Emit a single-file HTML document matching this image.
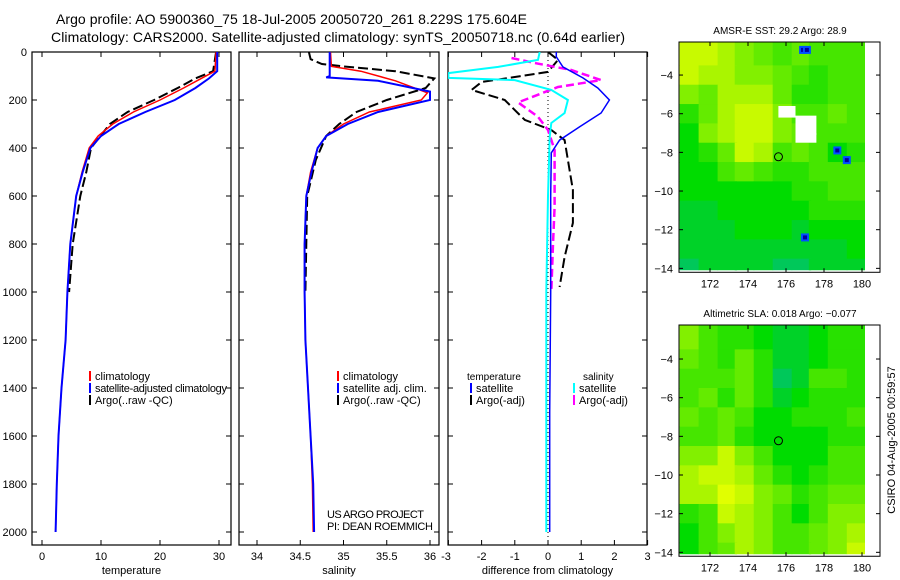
<!DOCTYPE html>
<html><head><meta charset="utf-8"><style>
body{margin:0;background:#fff}
svg{display:block;font-family:"Liberation Sans",sans-serif}
</style></head><body>
<svg id="s" width="900" height="580" viewBox="0 0 900 580">
<text x="56" y="24" font-size="14" textLength="471">Argo profile: AO 5900360_75 18-Jul-2005 20050720_261 8.229S 175.604E</text>
<text x="51" y="42" font-size="14" textLength="574">Climatology: CARS2000. Satellite-adjusted climatology: synTS_20050718.nc (0.64d earlier)</text>
<text transform="translate(895,440) rotate(-90)" font-size="11" text-anchor="middle">CSIRO 04-Aug-2005 00:59:57</text>
</svg>
<script>
// ---------- data ----------
const tDepth=[0,80,110,150,200,250,300,350,400,500,600,800,1000,1200,1400,1600,1800,2000];
const tempClim=[29.5,29.3,27,24,20,15.5,12,9.5,8,6.8,5.8,4.8,4.3,4.0,3.3,2.8,2.5,2.3];
const tempSat=[29.7,29.7,28.3,26,22.5,17.5,13,10,8.2,6.9,5.8,4.8,4.3,4.0,3.3,2.8,2.5,2.3];
const aDepth=[0,80,110,150,200,250,300,400,500,600,800,1000];
const tempArgo=[29.5,29.0,26,23,19,14.5,11.5,8.3,7.5,6.5,5.2,4.6];
const sDepth=[0,60,80,120,170,200,250,300,350,400,500,600,800,1000,1200,1400,1600,1800,2000];
const salClim=[34.85,34.86,35.2,35.6,35.97,35.9,35.3,35.0,34.8,34.7,34.62,34.57,34.55,34.55,34.56,34.59,34.62,34.64,34.65];
const ssDepth=[0,100,106,120,165,200,250,300,350,400,500,600,800,1000,1200,1400,1600,1800,2000];
const salSat=[34.84,34.84,34.8,35.4,36.0,36.0,35.4,35.05,34.8,34.7,34.63,34.57,34.55,34.55,34.56,34.59,34.62,34.65,34.66];
const saDepth=[0,30,50,60,80,110,150,200,250,300,350,450,600,800,1000];
const salArgo=[34.6,34.62,34.75,35.0,35.6,36.05,35.95,35.5,35.15,34.95,34.8,34.68,34.58,34.57,34.56];
const dDepthT=[0,20,62,108,150,200,254,312,367,420,600,1000,1500,2000];
const diffTSat=[0.25,0.25,0.45,1.05,1.5,1.85,1.6,0.95,0.35,0.1,0.08,0.08,0.05,0.05];
const dDepthS=[0,33,62,88,108,117,158,200,254,296,354,600,1000,1500,2000];
const diffSSat=[-0.25,-0.3,-1.5,-3,-3,-1,0.1,0.6,0.5,0.1,0.05,0,-0.05,-0.05,-0.05];
const dDepthTA=[0,33,83,104,125,158,200,242,283,325,367,450,575,712,854,979];
const diffTArgo=[0,0.3,0,-1,-2,-2.3,-1.3,-1.0,-0.7,0.1,0.5,0.6,0.75,0.75,0.5,0.35];
const dDepthSA=[25,46,75,117,146,210,270,325,408,645,800,1000];
const diffSArgo=[-1.1,-0.4,0.7,1.6,0.3,-0.9,-0.3,0,0.2,0.2,0.15,0.1];
const depthTicks=[0,200,400,600,800,1000,1200,1400,1600,1800,2000];
const tempTicks=[0,10,20,30];
const salTicks=[34,34.5,35,35.5,36];
const diffTicks=[-3,-2,-1,0,1,2,3];
const lonTicks=[172,174,176,178,180];
const latTicks=[-4,-6,-8,-10,-12,-14];
const gridLat=[-3,-4,-5,-6,-7,-8,-9,-10,-11,-12,-13,-14];
const gridLon=[170.9,171.9,172.9,173.8,174.8,175.8,176.8,177.7,178.7,179.7];
const sstGrid=[
[9,9,8,7,6,5,6,5,5,5],[9,8,8,7,7,6,5,4,5,5],[7,6,8,8,8,6,4,4,5,5],[4,6,8,9,9,7,5,5,6,5],
[3,7,8,9,9,7,6,5,5,5],[3,4,6,9,8,5,6,5,3,4],[3,3,5,6,5,4,4,5,5,5],[3,3,3,3,3,3,4,4,5,5],
[2,2,3,3,3,3,3,4,4,4],[2,2,2,3,3,3,2,3,3,3],[2,2,2,2,2,2,2,2,2,3],[1,2,2,2,2,1,1,2,2,2]];
const slaGrid=[
[7,5,4,4,3,2,2,3,4,4],[6,5,4,6,4,2,2,3,4,4],[5,5,5,6,4,1,2,5,5,4],[5,6,4,6,4,2,3,4,4,4],
[6,5,6,5,3,3,4,4,4,5],[5,5,6,4,3,3,3,3,4,4],[7,7,9,7,5,3,3,3,5,5],[8,9,9,8,6,4,3,4,5,5],
[8,8,10,9,7,6,4,5,6,6],[4,5,9,8,7,5,3,5,7,7],[3,5,7,8,7,5,5,6,7,8],[3,5,6,8,7,5,5,6,7,9]];
const cloudLon=[175.6,176.5,176.5];
const cloudLat=[-5.6,-6.1,-7.0];
const cloudW=[0.9,1.1,1.1];
const cloudH=[0.6,1.0,0.5];
const spotLon=[176.9,177.1,178.7,179.2,177.0];
const spotLat=[-2.7,-2.7,-7.9,-8.4,-12.4];
const argoLon=175.604, argoLat=-8.229;

// ---------- drawing ----------
const S=document.getElementById('s');const NS='http://www.w3.org/2000/svg';
function mk(tag,at,parent){const e=document.createElementNS(NS,tag);for(const k in at)e.setAttribute(k,at[k]);(parent||S).appendChild(e);return e;}
function txt(x,y,s,size,anchor,name){const e=mk('text',{x:x,y:y,'font-size':size,'text-anchor':anchor||'start'});e.textContent=s;


return e;}
const Y=d=>52+d*0.24;
function panel(x0,x1,xs,ticks,fmt,title,name,ylabels){
  const r=mk('rect',{x:x0,y:52,width:x1-x0,height:493,fill:'none',stroke:'#000','stroke-width':1.2});
  
  
  ticks.forEach(t=>{const x=xs(t);mk('line',{x1:x,x2:x,y1:545,y2:540,stroke:'#000'});mk('line',{x1:x,x2:x,y1:52,y2:57,stroke:'#000'});
    txt(x,560,fmt(t),11,'middle',name+'-x-tick-label');});
  depthTicks.forEach(d=>{mk('line',{x1:x0,x2:x0+5,y1:Y(d),y2:Y(d),stroke:'#000'});mk('line',{x1:x1-5,x2:x1,y1:Y(d),y2:Y(d),stroke:'#000'});
    if(ylabels)txt(27,Y(d)+4,String(d),11,'end','depth-tick-label');});
  txt((x0+x1)/2,574,title,11,'middle',name+'-x-axis-title');
}
const xT=v=>42+v*5.9, xS=v=>257+(v-34)*86.5, xD=v=>548+v*33.2;
panel(32,231,xT,tempTicks,String,'temperature','temperature-panel',true);
panel(239,439,xS,salTicks,String,'salinity','salinity-panel',false);
panel(448,647,xD,diffTicks,String,'difference from climatology','difference-panel',false);
S.querySelectorAll('text').forEach(t=>{if(t.textContent==='-3'&&+t.getAttribute('x')<450){t.setAttribute('x',446);}});
const clipT=mk('clipPath',{id:'c1'});mk('rect',{x:32,y:52,width:199,height:493},clipT);
const clipS=mk('clipPath',{id:'c2'});mk('rect',{x:239,y:52,width:200,height:493},clipS);
const clipD=mk('clipPath',{id:'c3'});mk('rect',{x:448,y:52,width:199,height:493},clipD);
const g1=mk('g',{'clip-path':'url(#c1)'}),g2=mk('g',{'clip-path':'url(#c2)'}),g3=mk('g',{'clip-path':'url(#c3)'});
function lineIn(g,xs,xv,dv,col,w,dash,name){
  const p=xv.map((v,i)=>xs(v).toFixed(1)+','+Y(dv[i]).toFixed(1)).join(' ');
  const e=mk('polyline',{points:p,fill:'none',stroke:col,'stroke-width':w,'stroke-dasharray':dash||'none'},g);
  
  
}
const DASH='10,4';
lineIn(g1,xT,tempArgo,aDepth,'#000',2,DASH,'temp-argo-line');
lineIn(g1,xT,tempClim,tDepth,'#f00',1.5,null,'temp-climatology-line');
lineIn(g1,xT,tempSat,tDepth,'#00f',2,null,'temp-satellite-line');
lineIn(g2,xS,salArgo,saDepth,'#000',2,DASH,'sal-argo-line');
lineIn(g2,xS,salClim,sDepth,'#f00',1.5,null,'sal-climatology-line');
lineIn(g2,xS,salSat,ssDepth,'#00f',2,null,'sal-satellite-line');
mk('line',{x1:xD(0),x2:xD(0),y1:52,y2:545,stroke:'#000','stroke-dasharray':'1,3'},g3);
lineIn(g3,xD,diffTArgo,dDepthTA,'#000',2,DASH,'diff-temp-argo-line');
lineIn(g3,xD,diffSArgo,dDepthSA,'#f0f',2.5,'8,4','diff-sal-argo-line');
lineIn(g3,xD,diffTSat,dDepthT,'#00f',1.5,null,'diff-temp-satellite-line');
lineIn(g3,xD,diffSSat,dDepthS,'#0ff',2,null,'diff-sal-satellite-line');
function leg(x,y,col,label,name,len){mk('rect',{x:x,y:y-9,width:2,height:10,fill:col});if(label){const t=txt(x+6,y,label,11,'start',name);if(len)t.setAttribute('textLength',len);}}
leg(89,380,'#f00','climatology','legend-climatology');
leg(89,392,'#00f','satellite-adjusted climatology','legend-satellite',132);
leg(89,404,'#000','Argo(..raw -QC)','legend-argo');
leg(337,380,'#f00','climatology','legend-sal-climatology');
leg(337,392,'#00f','satellite adj. clim.','legend-sal-satellite');
leg(337,404,'#000','Argo(..raw -QC)','legend-sal-argo');
const c1=txt(327,518,'US ARGO PROJECT',11,'start','project-credit');c1.setAttribute('textLength',97);
const c2=txt(327,530,'PI: DEAN ROEMMICH',11,'start','pi-credit');c2.setAttribute('textLength',106);
txt(467,380,'temperature',10,'start','legend-temperature-header');
leg(470,392,'#00f','satellite','legend-diff-temp-sat');
leg(470,404,'#000','Argo(-adj)','legend-diff-temp-argo');
txt(583,380,'salinity',10,'start','legend-salinity-header');
leg(573,392,'#0ff','satellite','legend-diff-sal-sat');
leg(573,404,'#f0f','Argo(-adj)','legend-diff-sal-argo');

// maps
const cmap=v=>{const c=[[0,190,120],[0,200,90],[0,210,40],[0,220,0],[40,225,0],[70,230,0],[100,235,0],[130,240,0],[170,245,0],[200,250,0],[225,255,0]];const k=c[Math.max(0,Math.min(10,v))];return 'rgb('+k+')';};
function map(top,latTop,grid,title,name,clouds,cid){
  const lx=v=>710+(v-172)*19, ly=v=>top+(latTop-v)*19.33;
  const b=top+(latTop+14.1)*19.33;
  const cp=mk('clipPath',{id:cid});mk('rect',{x:679,y:top,width:186,height:b-top},cp);
  const g=mk('g',{'clip-path':'url(#'+cid+')'});
  gridLat.forEach((la,i)=>gridLon.forEach((lo,j)=>{
    const x0=lx(lo-0.5),x1=lx(lo+0.5);
    const y0=ly(la+0.5+(i===0?0.5:0)),y1=ly(la-0.5-(i===gridLat.length-1?0.5:0));
    const e=mk('rect',{x:x0,y:y0,width:x1-x0+0.5,height:y1-y0+0.5,fill:cmap(grid[i][j])},g);
    
    
  }));
  if(clouds){
    cloudLon.forEach((lo,i)=>{const e=mk('rect',{x:lx(lo),y:ly(cloudLat[i]),width:cloudW[i]*19,height:cloudH[i]*19.33,fill:'#fff'},g);
      
      });
    spotLon.forEach((lo,i)=>{const e=mk('rect',{x:lx(lo)-4,y:ly(spotLat[i])-4,width:8,height:8,fill:'#0050ff'},g);
      
      
      mk('rect',{x:lx(lo)-2,y:ly(spotLat[i])-2,width:4,height:4,fill:'#0000a0'},g);});
  }
  const fr=mk('rect',{x:679,y:top,width:201,height:b-top+2,fill:'none',stroke:'#000'});
  
  
  const ci=mk('circle',{cx:lx(argoLon),cy:ly(argoLat),r:4,fill:'none',stroke:'#000','stroke-width':1});
  
  
  lonTicks.forEach(t=>{mk('line',{x1:lx(t),x2:lx(t),y1:b+2,y2:b-2,stroke:'#000'});mk('line',{x1:lx(t),x2:lx(t),y1:top,y2:top+4,stroke:'#000'});txt(lx(t),b+17,String(t),11,'middle',name+'-lon-label');});
  latTicks.forEach(t=>{mk('line',{x1:679,x2:683,y1:ly(t),y2:ly(t),stroke:'#000'});mk('line',{x1:876,x2:880,y1:ly(t),y2:ly(t),stroke:'#000'});txt(673,ly(t)+4,String(t).replace('-','\u2212'),11,'end',name+'-lat-label');});
  txt(780,top-8,title,10,'middle',name+'-title');
}
map(42,-2.29,sstGrid,'AMSR-E SST: 29.2 Argo: 28.9','sst-map',true,'m1');
map(325,-2.24,slaGrid,'Altimetric SLA: 0.018 Argo: \u22120.077','sla-map',false,'m2');
</script>
</body></html>
